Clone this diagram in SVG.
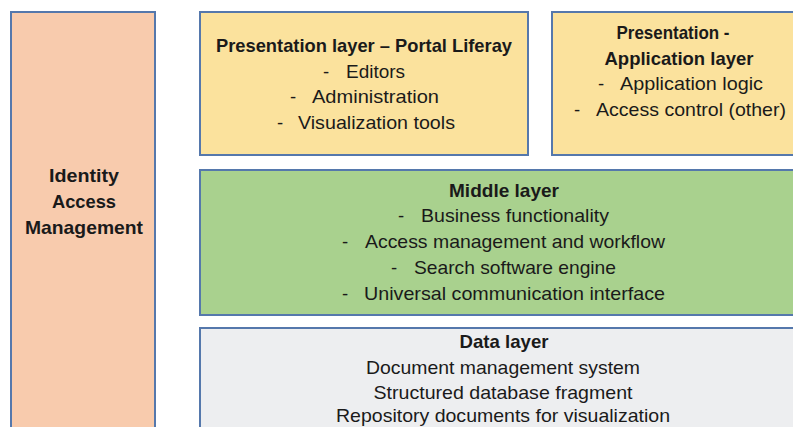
<svg xmlns="http://www.w3.org/2000/svg" width="793" height="427" viewBox="0 0 793 427">
<style>
.box{stroke:#5578AC;stroke-width:2}
text{font-family:"Liberation Sans",Arial,sans-serif;font-size:18.5px;fill:#1a1a1a;text-anchor:middle}
.b{font-weight:bold}
.d{text-anchor:start}
</style>
<rect width="793" height="427" fill="#ffffff"/>
<g id="iam">
<rect class="box" x="11" y="12" width="144" height="430" fill="#F8CBAD"/>
<text class="b" x="84" y="182" textLength="70" lengthAdjust="spacingAndGlyphs">Identity</text>
<text class="b" x="84" y="208" textLength="64" lengthAdjust="spacingAndGlyphs">Access</text>
<text class="b" x="84" y="234" textLength="118" lengthAdjust="spacingAndGlyphs">Management</text>
</g>
<g id="portal">
<rect class="box" x="200" y="12" width="328" height="143" fill="#FBE29D"/>
<text class="b" x="364" y="52" textLength="296" lengthAdjust="spacingAndGlyphs">Presentation layer – Portal Liferay</text>
<text class="d" x="323" y="78">-</text>
<text class="d" x="346" y="78" textLength="59" lengthAdjust="spacingAndGlyphs">Editors</text>
<text class="d" x="290" y="103">-</text>
<text class="d" x="312" y="103" textLength="127" lengthAdjust="spacingAndGlyphs">Administration</text>
<text class="d" x="277" y="129">-</text>
<text class="d" x="298" y="129" textLength="157" lengthAdjust="spacingAndGlyphs">Visualization tools</text>
</g>
<g id="applayer">
<rect class="box" x="552" y="12" width="250" height="143" fill="#FBE29D"/>
<text class="b" x="673" y="39" textLength="113" lengthAdjust="spacingAndGlyphs">Presentation -</text>
<text class="b" x="679" y="65" textLength="149" lengthAdjust="spacingAndGlyphs">Application layer</text>
<text class="d" x="598" y="90">-</text>
<text class="d" x="620" y="90" textLength="143" lengthAdjust="spacingAndGlyphs">Application logic</text>
<text class="d" x="574" y="116">-</text>
<text class="d" x="596" y="116" textLength="190" lengthAdjust="spacingAndGlyphs">Access control (other)</text>
</g>
<g id="middle">
<rect class="box" x="200" y="170" width="600" height="145" fill="#A9D18E"/>
<text class="b" x="504" y="197" textLength="110" lengthAdjust="spacingAndGlyphs">Middle layer</text>
<text class="d" x="398" y="222">-</text>
<text class="d" x="421" y="222" textLength="188" lengthAdjust="spacingAndGlyphs">Business functionality</text>
<text class="d" x="342" y="248">-</text>
<text class="d" x="365" y="248" textLength="300" lengthAdjust="spacingAndGlyphs">Access management and workflow</text>
<text class="d" x="391" y="274">-</text>
<text class="d" x="414" y="274" textLength="202" lengthAdjust="spacingAndGlyphs">Search software engine</text>
<text class="d" x="342" y="300">-</text>
<text class="d" x="364" y="300" textLength="301" lengthAdjust="spacingAndGlyphs">Universal communication interface</text>
</g>
<g id="data">
<rect class="box" x="200" y="328" width="600" height="120" fill="#EDEEF0"/>
<text class="b" x="504" y="348" textLength="89" lengthAdjust="spacingAndGlyphs">Data layer</text>
<text x="503" y="374" textLength="274" lengthAdjust="spacingAndGlyphs">Document management system</text>
<text x="503" y="399" textLength="259" lengthAdjust="spacingAndGlyphs">Structured database fragment</text>
<text x="503" y="422" textLength="334" lengthAdjust="spacingAndGlyphs">Repository documents for visualization</text>
</g>
<g id="connectors"/>
</svg>
